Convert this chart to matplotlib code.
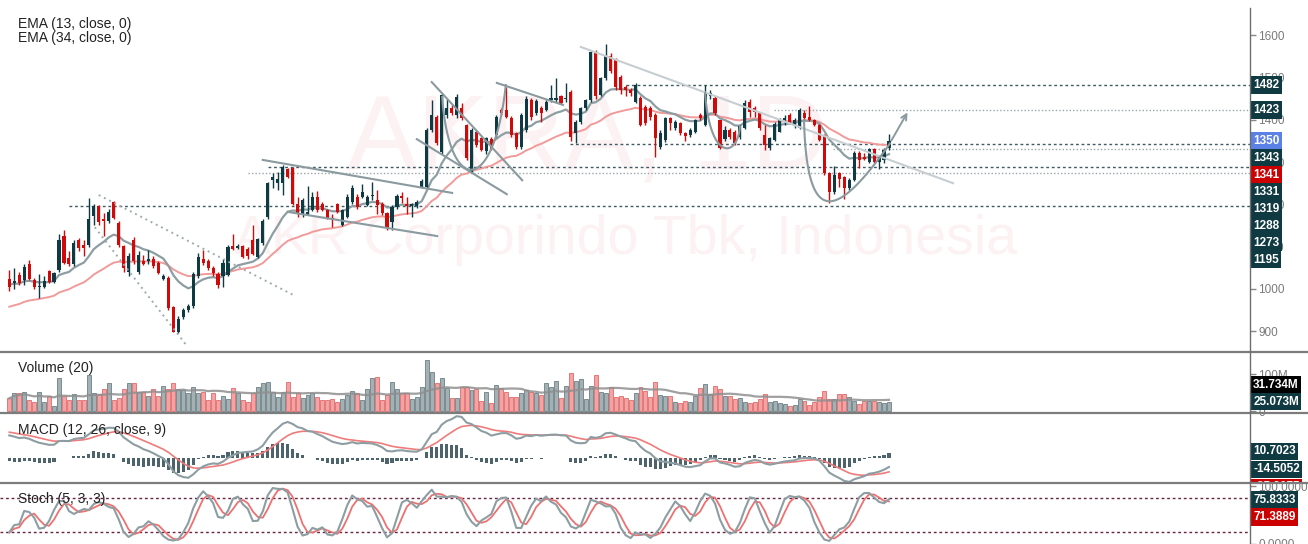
import numpy as np
import pandas as pd
import matplotlib
matplotlib.use('Agg')
import matplotlib.pyplot as plt
from matplotlib.lines import Line2D
from matplotlib.transforms import Bbox, TransformedBbox, blended_transform_factory

plt.rcParams['font.family'] = ['Liberation Sans', 'DejaVu Sans']

# daily candles
opens = [1024, 1015, 1032, 1021, 1060, 1022, 1005, 1005, 1042, 1016,
         1045, 1124, 1074, 1060, 1115, 1105, 1103, 1172, 1196, 1166,
         1161, 1205, 1155, 1102, 1040, 1115, 1040, 1065, 1065, 1072,
         1062, 1023, 1025, 958, 899, 934, 950, 960, 1030, 1070,
         1067, 1050, 1035, 1030, 1033, 1102, 1096, 1101, 1095, 1116,
         1076, 1108, 1171, 1257, 1250, 1250, 1283, 1285, 1201, 1175,
         1175, 1187, 1218, 1200, 1187, 1167, 1201, 1151, 1171, 1205,
         1218, 1218, 1198, 1219, 1210, 1200, 1180, 1159, 1194, 1220,
         1201, 1195, 1195, 1242, 1242, 1376, 1407, 1324, 1411, 1427,
         1411, 1427, 1387, 1277, 1372, 1356, 1325, 1354, 1364, 1423,
         1423, 1403, 1368, 1336, 1376, 1447, 1415, 1427, 1423, 1447,
         1447, 1455, 1449, 1466, 1368, 1395, 1427, 1447, 1561, 1458,
         1498, 1550, 1541, 1502, 1478, 1470, 1443, 1451, 1431, 1427,
         1411, 1336, 1352, 1403, 1380, 1392, 1368, 1364, 1372, 1411,
         1388, 1455, 1451, 1399, 1355, 1376, 1372, 1360, 1380, 1443,
         1427, 1415, 1364, 1332, 1352, 1372, 1399, 1411, 1384, 1380,
         1415, 1407, 1399, 1388, 1364, 1273, 1230, 1273, 1265, 1238,
         1258, 1321, 1311, 1301, 1330, 1301, 1305, 1332]
highs = [1045, 1050, 1040, 1060, 1068, 1025, 1035, 1030, 1044, 1040,
         1130, 1140, 1090, 1115, 1120, 1115, 1215, 1200, 1198, 1180,
         1190, 1207, 1160, 1105, 1085, 1122, 1090, 1080, 1092, 1077,
         1065, 1035, 1030, 960, 935, 955, 965, 1040, 1085, 1092,
         1070, 1055, 1040, 1070, 1104, 1131, 1106, 1104, 1100, 1151,
         1120, 1165, 1253, 1273, 1277, 1293, 1286, 1288, 1217, 1215,
         1243, 1230, 1232, 1205, 1190, 1178, 1204, 1190, 1225, 1245,
         1225, 1247, 1222, 1253, 1234, 1205, 1183, 1198, 1225, 1230,
         1218, 1203, 1210, 1260, 1380, 1446, 1412, 1463, 1450, 1435,
         1460, 1440, 1390, 1380, 1375, 1360, 1360, 1358, 1410, 1428,
         1478, 1408, 1372, 1415, 1455, 1452, 1450, 1432, 1447, 1482,
         1498, 1458, 1486, 1470, 1400, 1430, 1450, 1565, 1565, 1502,
         1580, 1558, 1545, 1505, 1482, 1474, 1486, 1455, 1435, 1432,
         1415, 1375, 1407, 1407, 1400, 1395, 1372, 1380, 1402, 1415,
         1482, 1470, 1455, 1400, 1385, 1380, 1375, 1388, 1447, 1450,
         1432, 1418, 1388, 1360, 1395, 1405, 1411, 1415, 1403, 1427,
         1423, 1432, 1402, 1390, 1366, 1276, 1290, 1276, 1268, 1262,
         1325, 1325, 1321, 1333, 1333, 1317, 1332, 1367]
lows = [995, 1000, 1010, 1010, 1020, 1000, 978, 1002, 1014, 1013,
        1040, 1058, 1055, 1055, 1090, 1077, 1100, 1150, 1150, 1125,
        1155, 1165, 1100, 1040, 1030, 1060, 1035, 1057, 1060, 1050,
        1035, 1020, 950, 898, 895, 930, 945, 955, 1025, 1056,
        1045, 1030, 1002, 1005, 1030, 1092, 1094, 1074, 1070, 1080,
        1072, 1105, 1165, 1238, 1234, 1222, 1262, 1198, 1170, 1170,
        1175, 1185, 1182, 1184, 1165, 1147, 1180, 1148, 1168, 1200,
        1190, 1214, 1195, 1210, 1178, 1175, 1140, 1140, 1190, 1202,
        1178, 1170, 1192, 1238, 1238, 1370, 1340, 1320, 1405, 1410,
        1405, 1400, 1305, 1275, 1335, 1325, 1318, 1328, 1360, 1412,
        1405, 1360, 1330, 1330, 1370, 1400, 1410, 1395, 1420, 1443,
        1443, 1436, 1443, 1350, 1345, 1390, 1424, 1443, 1450, 1455,
        1495, 1510, 1470, 1460, 1455, 1455, 1440, 1385, 1388, 1400,
        1313, 1330, 1348, 1375, 1375, 1365, 1350, 1360, 1368, 1400,
        1385, 1450, 1410, 1330, 1350, 1355, 1340, 1355, 1378, 1407,
        1407, 1375, 1328, 1328, 1350, 1370, 1388, 1392, 1380, 1378,
        1400, 1396, 1385, 1350, 1270, 1203, 1225, 1240, 1213, 1235,
        1255, 1285, 1305, 1298, 1298, 1283, 1297, 1328]
closes = [1005, 1020, 1015, 1053, 1024, 1005, 1007, 1018, 1016, 1037,
          1115, 1062, 1060, 1108, 1097, 1097, 1166, 1196, 1159, 1160,
          1183, 1168, 1104, 1050, 1077, 1065, 1081, 1060, 1072, 1054,
          1038, 1030, 955, 899, 930, 950, 960, 1035, 1075, 1062,
          1049, 1037, 1010, 1062, 1100, 1094, 1102, 1076, 1078, 1082,
          1117, 1161, 1250, 1264, 1259, 1289, 1265, 1202, 1179, 1210,
          1183, 1217, 1187, 1187, 1167, 1163, 1183, 1186, 1218, 1238,
          1194, 1230, 1218, 1222, 1198, 1179, 1143, 1194, 1220, 1214,
          1195, 1200, 1206, 1256, 1376, 1411, 1344, 1458, 1427, 1415,
          1454, 1403, 1309, 1376, 1340, 1328, 1356, 1331, 1407, 1415,
          1407, 1364, 1336, 1411, 1450, 1407, 1445, 1415, 1443, 1451,
          1451, 1439, 1452, 1360, 1395, 1427, 1447, 1561, 1455, 1498,
          1553, 1514, 1478, 1470, 1470, 1462, 1482, 1388, 1392, 1407,
          1356, 1368, 1403, 1392, 1395, 1368, 1362, 1376, 1399, 1403,
          1462, 1462, 1415, 1332, 1376, 1360, 1344, 1384, 1439, 1419,
          1419, 1380, 1340, 1356, 1391, 1401, 1403, 1395, 1399, 1423,
          1405, 1399, 1388, 1352, 1273, 1230, 1269, 1261, 1238, 1258,
          1321, 1305, 1308, 1330, 1301, 1314, 1328, 1350]
volumes = [34.5, 48, 48, 52.7, 30, 25.4, 52.7, 25.4, 40.9, 13.6,
           89, 40.9, 30, 45.4, 30, 30, 98, 50, 45.4, 59,
           75, 30, 34.5, 59, 75, 75, 52.7, 52.7, 40.9, 59,
           40.9, 68, 59, 75, 59, 57, 48, 66, 50, 52.7,
           30, 48, 30, 40, 31.8, 61.7, 48, 30, 25.4, 48,
           66, 75, 80, 52.7, 39, 52.7, 80, 39, 48, 36,
           43.6, 50, 39, 30, 30, 31.8, 25.4, 31.8, 43.6, 55.4,
           48, 30, 59, 89, 91.7, 30, 43.6, 80, 59, 48,
           48, 31.8, 39, 66, 139, 107, 75, 89, 61.7, 36.3,
           36.3, 66, 66, 57, 59, 28, 52.7, 22.7, 70.8, 61.7,
           52.7, 39, 37.2, 50, 57, 52.7, 50, 43.6, 77, 66,
           82.6, 34.5, 68, 102.6, 81.7, 87, 31.8, 68, 98, 52.7,
           50, 66, 39, 40.9, 34.5, 30, 48, 64.5, 54.5, 39,
           80, 43.6, 40.9, 40.9, 25.4, 22.7, 28, 25.4, 40.9, 61.7,
           72.6, 45.4, 68, 59, 41.8, 40.9, 31.8, 34.5, 25.4, 20.9,
           25.4, 31.8, 45.4, 25.4, 28, 22.7, 19, 13.6, 16.3, 31.8,
           28, 16.3, 25.4, 39, 55.4, 31.8, 31.8, 45.4, 45.4, 39,
           28, 19, 28, 28, 28, 25.4, 22.7, 25.1]

# indicator starting values (history before the first visible bar)
ema13_seed, ema34_seed = 1012, 955
ema12_seed, ema26_seed, signal_seed = 1012, 972, 43

# horizontal levels: price, first bar, dark/light
levels = [1482, 1423, 1343, 1331, 1288, 1273, 1195]
level_start = [124.1, 153.9, 112.8, 165.7, 52.1, 48.0, 12.0]
level_dark = [True, False, True, False, True, False, True]

# price tags on the right axis
price_tags = [1482, 1423, 1350, 1343, 1341, 1331, 1319, 1288, 1273, 1195]
price_tag_colors = ['#0f3a42', '#0f3a42', '#5b80e6', '#0f3a42', '#cc0000',
                    '#0f3a42', '#0f3a42', '#0f3a42', '#0f3a42', '#0f3a42']
vol_tags = [('31.734M', 31.734, '#000000'), ('25.073M', 25.073, '#0f3a42')]
macd_tags = [('10.7023', 10.7023, '#0f3a42'), ('-14.5052', -14.5052, '#0f3a42'),
             ('-25.2075', -25.2075, '#cc0000')]
stoch_tags = [('75.8333', 75.8333, '#0f3a42'), ('71.3889', 71.3889, '#cc0000')]

# drawn trend lines (bar index, price)
dotted_lines = [[(18.0, 1222), (57.1, 986)], [(17.2, 1146), (35.9, 863)]]
solid_lines = [[(51.0, 1305), (89.1, 1227)], [(56.1, 1182), (86.1, 1125)],
               [(85.0, 1489), (103.2, 1257)], [(82.0, 1354), (100.1, 1224)],
               [(98.1, 1487), (111.4, 1435)]]
long_trend = [(115.0, 1572), (189.9, 1250)]
curves = [[(87.1, 1454), (88.5, 1220), (97.5, 1220), (99.9, 1482)],
          [(140.0, 1463), (141.0, 1300), (146.5, 1310), (147.0, 1383)],
          [(159.9, 1399), (160.5, 1130), (167.0, 1175), (177.2, 1344)]]
arrow_line = [(177.2, 1345), (181.0, 1423)]

UP, DOWN = '#0e3b43', '#d00a0a'
W, H = 1308, 544
XL = (-9.3 / 4.97, (1250 - 9.3) / 4.97)


def ema(values, span, seed):
    k = 2 / (span + 1)
    out, prev = [], seed
    for v in values:
        prev = prev + k * (v - prev)
        out.append(prev)
    return np.array(out)


def bezier(pts, n=60):
    p = np.array(pts, dtype=float)
    t = np.linspace(0, 1, n)[:, None]
    return ((1 - t) ** 3 * p[0] + 3 * (1 - t) ** 2 * t * p[1]
            + 3 * (1 - t) * t ** 2 * p[2] + t ** 3 * p[3])


def panel(top, bottom):
    a = fig.add_axes([0, 1 - bottom / H, 1250 / W, (bottom - top) / H])
    for s in a.spines.values():
        s.set_visible(False)
    a.set_xlim(*XL)
    a.set_xticks([])
    a.yaxis.tick_right()
    a.tick_params(axis='y', length=4, width=1, color='#888888', labelcolor='#7a7a7a',
                  labelsize=8.5, pad=2)
    return a


def tags(a, items, px_per_unit, upward=False, gap_px=17):
    tr = blended_transform_factory(a.transAxes, a.transData)
    gap = gap_px / px_per_unit
    clip = TransformedBbox(Bbox([[1.0, 0], [1.2, 1]]), a.transAxes)
    prev = None
    for text, val, col in items:
        pos = val
        if prev is not None:
            pos = max(val, prev + gap) if upward else min(val, prev - gap)
        prev = pos
        t = a.text(1.0025, pos, text, transform=tr, ha='left', va='center', fontsize=8.5,
                   fontweight='bold', color='white', zorder=20,
                   bbox=dict(boxstyle='square,pad=0.22', fc=col, ec='none'))
        t.set_clip_path(None)
        t.set_clip_on(True)
        t.set_clip_box(clip)


o = np.array(opens, float)
h = np.array(highs, float)
l = np.array(lows, float)
c = np.array(closes, float)
v = np.array(volumes, float)
idx = np.arange(len(c))
up = c >= o
cols = np.where(up, UP, DOWN)

fig = plt.figure(figsize=(W / 100, H / 100), dpi=100)

# ---- price panel
ax = panel(0, 352)
ax.set_ylim(851, 1683)
ax.set_yticks(range(900, 1700, 100))
ax.text(0.47, 0.6, 'AKRA, 1D', transform=ax.transAxes, fontsize=76, color='#fcf2f3',
        ha='center', va='center', zorder=0)
ax.text(0.5, 0.318, 'AKR Corporindo Tbk, Indonesia', transform=ax.transAxes, fontsize=40,
        color='#fcf2f3', ha='center', va='center', zorder=0)
for lv, st, dark in zip(levels, level_start, level_dark):
    ax.hlines(lv, st, XL[1], colors='#3f5a63' if dark else '#9aa6ab', lw=1,
              linestyles=(0, (2, 2)) if dark else (0, (1, 1.5)), zorder=1)
ema13 = ema(c, 13, ema13_seed)
ema34 = ema(c, 34, ema34_seed)
ax.plot(idx, ema34, color='#f19a9a', lw=1.4, zorder=2)
ax.plot(idx, ema13, color='#8d9ea3', lw=1.6, zorder=2)
ax.vlines(idx, l, h, colors=cols, lw=1, zorder=3)
body = np.maximum(np.abs(c - o), 1.5)
ax.bar(idx, body, bottom=np.minimum(o, c), width=0.62, color=cols, zorder=4)
for seg in dotted_lines:
    xs, ys = zip(*seg)
    ax.plot(xs, ys, color='#9eabb0', lw=1.4, ls=(0, (1, 2)), zorder=5)
for seg in solid_lines:
    xs, ys = zip(*seg)
    ax.plot(xs, ys, color='#8a9a9f', lw=1.5, zorder=5)
xs, ys = zip(*long_trend)
ax.plot(xs, ys, color='#c6ced1', lw=1.5, zorder=5)
for cv in curves:
    pts = bezier(cv)
    ax.plot(pts[:, 0], pts[:, 1], color='#8a9a9f', lw=1.5, zorder=5)
ax.annotate('', xy=arrow_line[1], xytext=arrow_line[0],
            arrowprops=dict(arrowstyle='->', color='#8a9a9f', lw=1.4), zorder=5)
tags(ax, list(zip([str(p) for p in price_tags], price_tags, price_tag_colors)), 352 / (1683 - 851))

# ---- volume panel
axv = panel(352, 413)
axv.set_ylim(-5.4, 160.8)
axv.set_yticks([0, 100])
axv.set_yticklabels(['0', '100M'])
axv.bar(idx, v, width=0.8, color=np.where(up, '#a3b1b5', '#f2a3a3'),
        edgecolor=np.where(up, '#7b8c91', '#e67878'), lw=0.7, zorder=2)
vma = pd.Series(v).rolling(20, min_periods=1).mean()
axv.plot(idx, vma, color='#8f8f8f', lw=1.6, alpha=0.85, zorder=3)
tags(axv, vol_tags[::-1], 61 / 166.2, upward=True)

# ---- MACD panel
axm = panel(413, 483)
axm.set_ylim(-40.3, 72.6)
axm.set_yticks([])
macd = ema(c, 12, ema12_seed) - ema(c, 26, ema26_seed)
signal = ema(macd, 9, signal_seed)
axm.bar(idx, macd - signal, width=0.62, color='#4d646c', zorder=2)
axm.plot(idx, signal, color='#ef7b7b', lw=1.2, zorder=3)
axm.plot(idx, macd, color='#8d9ea3', lw=1.5, zorder=3)
tags(axm, macd_tags, 70 / 112.9, gap_px=18)

# ---- Stochastic panel
axs = panel(483, 544)
axs.set_ylim(0, 105.2)
axs.set_yticks([0, 100])
axs.set_yticklabels(['0.0000', '100.0000'])
hh = pd.Series(h).rolling(5, min_periods=1).max()
ll = pd.Series(l).rolling(5, min_periods=1).min()
raw_k = 100 * (pd.Series(c) - ll) / (hh - ll)
k_line = raw_k.rolling(3, min_periods=1).mean()
d_line = k_line.rolling(3, min_periods=1).mean()
axs.axhline(80, color='#6a2341', lw=1, ls=(0, (2, 2)), zorder=1)
axs.axhline(20, color='#6a2341', lw=1, ls=(0, (2, 2)), zorder=1)
axs.plot(idx, d_line, color='#ef7070', lw=1.3, zorder=3)
axs.plot(idx, k_line, color='#8d9ea3', lw=1.5, zorder=3)
tags(axs, stoch_tags, 61 / 105.2)

# titles
for txt, ypx in [('EMA (13, close, 0)', 24), ('EMA (34, close, 0)', 38), ('Volume (20)', 368),
                 ('MACD (12, 26, close, 9)', 430), ('Stoch (5, 3, 3)', 499)]:
    fig.text(18 / W, 1 - ypx / H, txt, fontsize=10, color='#222222', va='center', ha='left')

# separators and price scale line
for ypx in (352, 413, 483):
    fig.add_artist(Line2D([0, 1], [1 - ypx / H] * 2, color='#7c7c7c', lw=1.6))
fig.add_artist(Line2D([1250 / W] * 2, [0, 1 - 8 / H], color='#6e6e6e', lw=1))

fig.savefig('out.png', dpi=100, facecolor='white')
